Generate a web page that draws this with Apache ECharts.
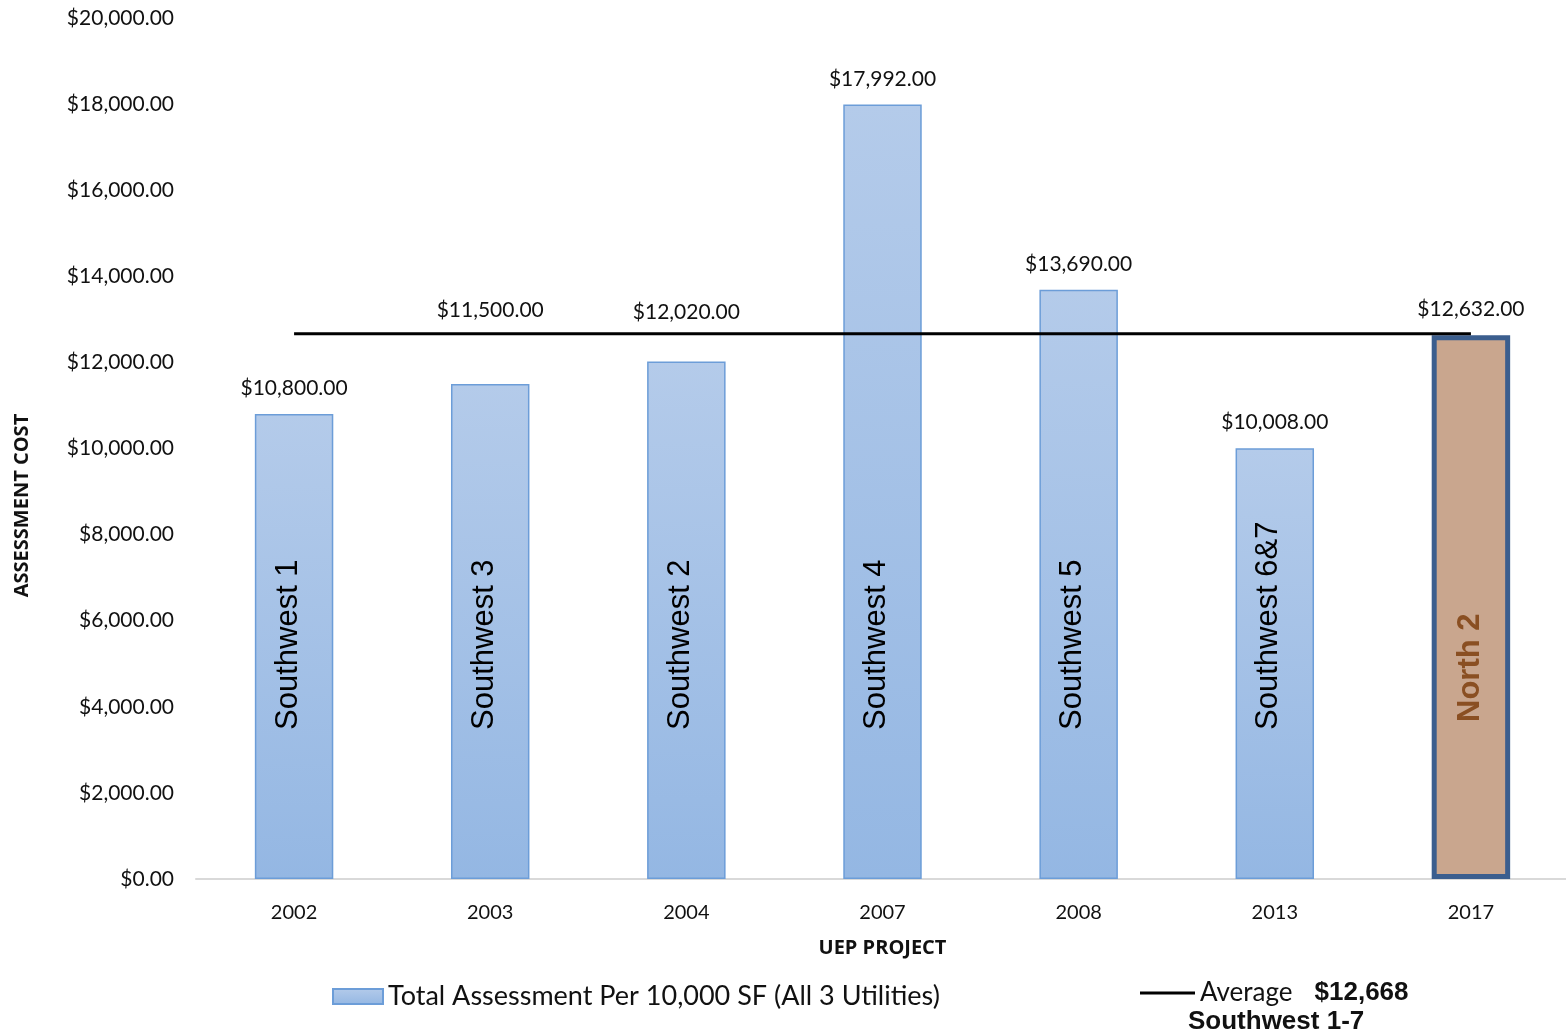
<!DOCTYPE html>
<html>
<head>
<meta charset="utf-8">
<script src="https://cdn.jsdelivr.net/npm/echarts@6/dist/echarts.min.js"></script>
<style>
  html, body { margin: 0; padding: 0; background: #fff; }
  #chart { width: 1566px; height: 1036px; }
</style>
</head>
<body>
<div id="chart"></div>
<script>
// 数据
const years = ['2002', '2003', '2004', '2007', '2008', '2013', '2017']
const projects = ['Southwest 1', 'Southwest 3', 'Southwest 2', 'Southwest 4', 'Southwest 5', 'Southwest 6&7', 'North 2']
const assessment = [10800, 11500, 12020, 17992, 13690, 10008, 12632]
const averageValue = 12668
const averageLine = [12668, 12668, 12668, 12668, 12668, 12668, 12668]

const money = (v) => '$' + v.toLocaleString('en-US', { minimumFractionDigits: 2, maximumFractionDigits: 2 })

// 标签避让平均线
const labelShift = { 1: -48, 2: -24 }

const chart = echarts.init(document.getElementById('chart'))

const barData = assessment.map((v, i) => {
  const last = i === assessment.length - 1
  const item = {
    value: v,
    label: {
      show: true,
      position: 'top',
      distance: 15,
      offset: [0, labelShift[i] || 0],
      formatter: () => money(v),
      fontFamily: 'Lato',
      fontSize: 21,
      color: '#111'
    }
  }
  if (last) {
    item.itemStyle = { color: '#c9a68e', borderColor: '#3b5e8e', borderWidth: 5 }
  }
  return item
})

// 柱内竖排项目名（旋转后 offset 的 y 方向朝右）
const nameData = assessment.map((v, i) => {
  const last = i === assessment.length - 1
  return {
    value: v,
    label: {
      show: true,
      position: 'insideBottom',
      rotate: 90,
      align: 'left',
      verticalAlign: 'middle',
      distance: last ? 157 : 149,
      offset: [0, last ? 0 : -6],
      formatter: projects[i],
      fontFamily: 'Liberation Sans',
      fontWeight: last ? 'bold' : 'normal',
      fontSize: 31,
      color: last ? '#8a4f22' : '#000'
    }
  }
})

chart.setOption({
  animation: false,
  grid: { left: 196, right: -3, top: 18, bottom: 157, outerBoundsMode: 'none' },
  legend: [
    {
      left: 327,
      top: 978,
      data: [{ name: 'Total Assessment Per 10,000 SF (All 3 Utilities)', icon: 'rect' }],
      itemWidth: 50,
      itemHeight: 15,
      itemGap: 8,
      textStyle: { fontFamily: 'Lato', fontSize: 27, color: '#111' }
    },
    {
      left: 1135,
      top: 975,
      data: [{ name: 'Average', icon: 'rect' }],
      itemWidth: 55,
      itemHeight: 3,
      itemGap: 6,
      itemStyle: { color: '#000', borderWidth: 0 },
      formatter: (name) => name + '{b|$' + averageValue.toLocaleString('en-US') + '}',
      textStyle: {
        fontFamily: 'Lato',
        fontSize: 26,
        color: '#111',
        rich: { b: { fontFamily: 'Liberation Sans', fontWeight: 'bold', fontSize: 26, color: '#111', padding: [0, 0, 0, 22] } }
      }
    }
  ],
  graphic: [
    {
      type: 'text',
      left: 1188,
      top: 1009,
      style: { text: 'Southwest 1-7', fontFamily: 'Liberation Sans', fontWeight: 'bold', fontSize: 26, fill: '#111' }
    }
  ],
  xAxis: {
    type: 'category',
    data: years,
    name: 'UEP PROJECT',
    nameLocation: 'middle',
    nameGap: 59,
    nameTextStyle: { fontFamily: 'Open Sans', fontWeight: 'bold', fontSize: 20, color: '#111' },
    axisLine: { lineStyle: { color: '#d9d9d9', width: 2 } },
    axisTick: { show: false },
    axisLabel: { margin: 24, fontFamily: 'Lato', fontSize: 20, color: '#111' }
  },
  yAxis: {
    type: 'value',
    min: 0,
    max: 20000,
    interval: 2000,
    name: 'ASSESSMENT COST',
    nameLocation: 'middle',
    nameGap: 164,
    nameTextStyle: {
      fontFamily: 'Open Sans',
      fontWeight: 'bold',
      fontSize: 20,
      color: '#111',
      // 名称中心偏下
      padding: [0, 114, 0, 0]
    },
    axisLine: { show: false },
    axisTick: { show: false },
    splitLine: { show: false },
    axisLabel: { margin: 22, fontFamily: 'Lato', fontSize: 21, color: '#111', formatter: money }
  },
  series: [
    {
      name: 'Total Assessment Per 10,000 SF (All 3 Utilities)',
      type: 'bar',
      barWidth: '40%',
      z: 2,
      itemStyle: {
        color: new echarts.graphic.LinearGradient(0, 0, 0, 1, [
          { offset: 0, color: '#b4cbea' },
          { offset: 1, color: '#94b7e3' }
        ]),
        borderColor: '#6c9dd8',
        borderWidth: 1.5
      },
      data: barData
    },
    {
      name: 'Average',
      type: 'line',
      data: averageLine,
      symbol: 'none',
      z: 5,
      color: '#000',
      lineStyle: { color: '#000', width: 3 }
    },
    {
      // 项目名覆盖层
      name: 'labels',
      type: 'bar',
      barWidth: '40%',
      barGap: '-100%',
      silent: true,
      z: 6,
      itemStyle: { color: 'rgba(0,0,0,0)' },
      data: nameData
    }
  ]
})
</script>
</body>
</html>
